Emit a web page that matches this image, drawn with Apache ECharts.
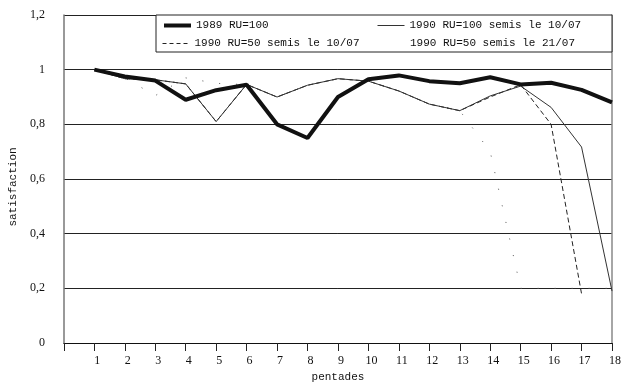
<!DOCTYPE html>
<html>
<head>
<meta charset="utf-8">
<script src="https://cdn.jsdelivr.net/npm/echarts@6/dist/echarts.min.js"></script>
<style>html,body{margin:0;padding:0;background:#fff}#c{width:626px;height:388px}</style>
</head>
<body>
<div id="c"></div>
<script>
var pentades = [1,2,3,4,5,6,7,8,9,10,11,12,13,14,15,16,17,18];
var yTicks = [0, 0.2, 0.4, 0.6, 0.8, 1, 1.2];
var names = ['1989 RU=100', '1990 RU=100 semis le 10/07', '1990 RU=50 semis le 10/07', '1990 RU=50 semis le 21/07'];
var s1989 = [1.0, 0.975, 0.96, 0.89, 0.925, 0.945, 0.80, 0.75, 0.90, 0.965, 0.979, 0.958, 0.95, 0.972, 0.946, 0.952, 0.926, 0.88];
var s1990ru100 = [1.0, 0.967, 0.963, 0.948, 0.81, 0.946, 0.90, 0.943, 0.967, 0.958, 0.922, 0.874, 0.85, 0.904, 0.94, 0.862, 0.717, 0.19];
var s1990ru50a = [1.0, 0.967, 0.963, 0.948, 0.81, 0.946, 0.90, 0.943, 0.967, 0.958, 0.922, 0.874, 0.85, 0.90, 0.945, 0.80, 0.18];
var s1990ru50b = [1.0, 0.97, 0.905, 0.97, 0.95, 0.945, 0.90, 0.943, 0.967, 0.958, 0.922, 0.874, 0.85, 0.70, 0.20, 0.20, 0.20, 0.20];

function pairs(vals){ return vals.map(function(v,i){ return [pentades[i], v]; }); }

var chart = echarts.init(document.getElementById('c'), null, {renderer:'canvas'});
var mono = 'Liberation Mono';
var serif = 'Liberation Serif';
var legendText = {fontFamily: mono, fontSize: 11, color: '#111'};
function lg(name, left, top, extra){
  var d = {name: name};
  if (extra) for (var k in extra) d[k] = extra[k];
  return {left: left, top: top, padding: 0, itemWidth: 27, itemHeight: 12, itemGap: 0,
          selectedMode: false, textStyle: legendText, data: [d]};
}
chart.setOption({
  animation: false,
  backgroundColor: '#fff',
  grid: {left: 60, right: 14, top: 15, bottom: 42},
  graphic: [{type: 'rect', z: 1, shape: {x: 156, y: 15, width: 456, height: 37},
             style: {fill: '#fff', stroke: '#222', lineWidth: 1}}],
  legend: [
    lg(names[0], 162, 20, {lineStyle: {width: 4, color: '#111'}}),
    lg(names[1], 377, 20, {lineStyle: {width: 1, color: '#333'}}),
    lg(names[2], 162, 38, {lineStyle: {width: 1, color: '#222', type: [4, 3]}}),
    lg(names[3], 377, 38, {lineStyle: {opacity: 0}})
  ],
  xAxis: {
    type: 'value', min: 0, max: 18, interval: 1,
    name: 'pentades', nameLocation: 'middle', nameGap: 29,
    nameTextStyle: {fontFamily: mono, fontSize: 11, color: '#111'},
    axisLine: {lineStyle: {color: '#111', width: 1}},
    axisTick: {length: 8, lineStyle: {color: '#222'}},
    splitLine: {show: false},
    axisLabel: {margin: 12, fontFamily: serif, fontSize: 12, color: '#111', padding: [0,0,0,6],
      formatter: function(v){ return v === 0 ? '' : String(v); }}
  },
  yAxis: [{
    type: 'value', min: yTicks[0], max: yTicks[yTicks.length-1], interval: 0.2,
    name: 'satisfaction', nameLocation: 'middle', nameGap: 40, nameRotate: 90,
    nameTextStyle: {fontFamily: mono, fontSize: 11, color: '#111', padding: [0,16,0,0]},
    axisLine: {show: true, lineStyle: {color: '#777', width: 1.5}},
    axisTick: {show: false},
    splitLine: {lineStyle: {color: '#222', width: 1}},
    axisLabel: {margin: 19, fontFamily: serif, fontSize: 12, color: '#111',
      formatter: function(v){ return String(Math.round(v*10)/10).replace('.', ','); }}
  }, {
    type: 'value', min: 0, max: 1.2, position: 'right',
    axisLine: {show: true, lineStyle: {color: '#888', width: 1.5}},
    axisTick: {show: false}, axisLabel: {show: false}, splitLine: {show: false}
  }],
  series: [
    {name: names[3], type: 'line', data: pairs(s1990ru50b), symbol: 'none', z: 2,
     itemStyle: {color: '#555', opacity: 0},
     lineStyle: {color: '#555', width: 1, type: [1, 16]}},
    {name: names[2], type: 'line', data: pairs(s1990ru50a), symbol: 'none', z: 3,
     itemStyle: {color: '#222', opacity: 0},
     lineStyle: {color: '#222', width: 1, type: [5, 3]}},
    {name: names[1], type: 'line', data: pairs(s1990ru100), symbol: 'none', z: 4,
     itemStyle: {color: '#333', opacity: 0},
     lineStyle: {color: '#333', width: 1}},
    {name: names[0], type: 'line', data: pairs(s1989), symbol: 'none', z: 5,
     itemStyle: {color: '#111', opacity: 0},
     lineStyle: {color: '#111', width: 4}}
  ]
});
</script>
</body>
</html>
